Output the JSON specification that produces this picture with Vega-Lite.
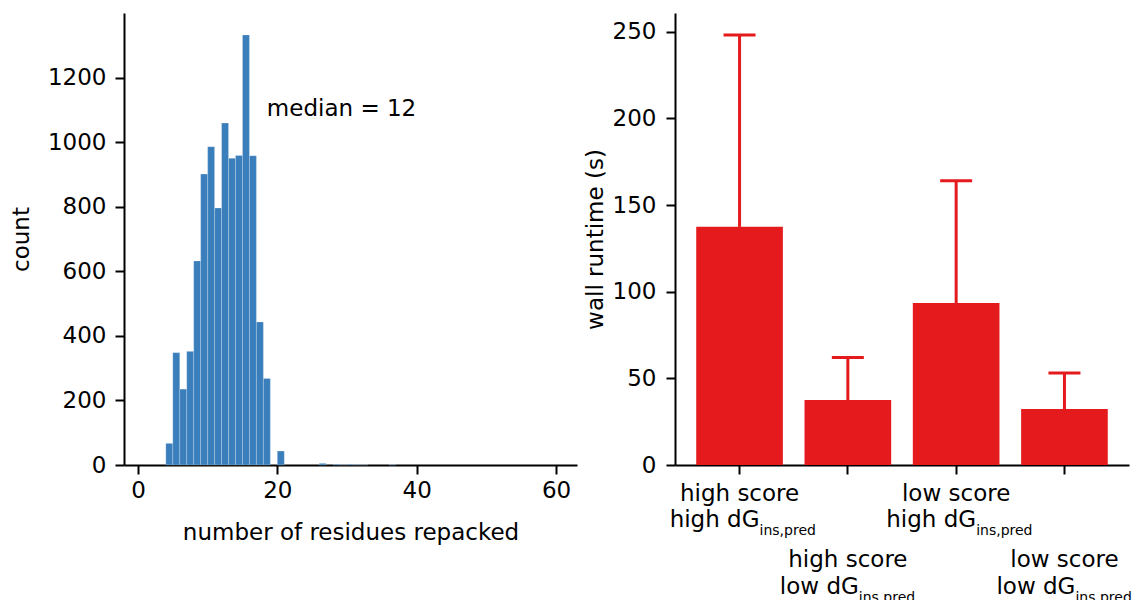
{
  "$schema": "https://vega.github.io/schema/vega-lite/v6.json",
  "background": "white",
  "padding": {"left": 10, "top": 13, "right": 0, "bottom": 0},
  "spacing": 98,
  "bounds": "flush",
  "config": {
    "view": {"stroke": null},
    "font": "DejaVu Sans",
    "axis": {
      "grid": false,
      "domainColor": "#000000",
      "domainWidth": 2,
      "tickColor": "#000000",
      "tickWidth": 2,
      "tickSize": 9,
      "labelFont": "DejaVu Sans",
      "labelFontSize": 23,
      "labelColor": "#000000",
      "titleFont": "DejaVu Sans",
      "titleFontSize": 23,
      "titleFontWeight": "normal",
      "titleColor": "#000000"
    }
  },
  "hconcat": [
    {
      "width": 453,
      "height": 452,
      "layer": [
        {
          "data": {"values": [
            {"bin_start": 4, "bin_end": 5, "count": 67},
            {"bin_start": 5, "bin_end": 6, "count": 348},
            {"bin_start": 6, "bin_end": 7, "count": 235},
            {"bin_start": 7, "bin_end": 8, "count": 352},
            {"bin_start": 8, "bin_end": 9, "count": 632},
            {"bin_start": 9, "bin_end": 10, "count": 901},
            {"bin_start": 10, "bin_end": 11, "count": 986},
            {"bin_start": 11, "bin_end": 12, "count": 796},
            {"bin_start": 12, "bin_end": 13, "count": 1059},
            {"bin_start": 13, "bin_end": 14, "count": 950},
            {"bin_start": 14, "bin_end": 15, "count": 959},
            {"bin_start": 15, "bin_end": 16, "count": 1332},
            {"bin_start": 16, "bin_end": 17, "count": 958},
            {"bin_start": 17, "bin_end": 18, "count": 443},
            {"bin_start": 18, "bin_end": 19, "count": 268},
            {"bin_start": 20, "bin_end": 21, "count": 43},
            {"bin_start": 26, "bin_end": 27, "count": 5},
            {"bin_start": 28, "bin_end": 29, "count": 2},
            {"bin_start": 29, "bin_end": 30, "count": 1},
            {"bin_start": 30, "bin_end": 31, "count": 2},
            {"bin_start": 31, "bin_end": 32, "count": 1},
            {"bin_start": 32, "bin_end": 33, "count": 1},
            {"bin_start": 36, "bin_end": 37, "count": 1}
          ]},
          "mark": {"type": "bar", "color": "#3a7ebb", "stroke": "#ffffff", "strokeWidth": 0.5, "strokeOpacity": 0.45},
          "encoding": {
            "x": {
              "field": "bin_start", "type": "quantitative",
              "scale": {"domain": [-2, 63], "nice": false, "zero": false},
              "axis": {"values": [0, 20, 40, 60], "title": "number of residues repacked", "labelPadding": 5, "titlePadding": 19, "labelFlush": false}
            },
            "x2": {"field": "bin_end"},
            "y": {
              "field": "count", "type": "quantitative",
              "scale": {"domain": [0, 1400], "nice": false},
              "axis": {"values": [0, 200, 400, 600, 800, 1000, 1200], "format": "d", "title": "count", "labelPadding": 9, "titlePadding": 14}
            },
            "y2": {"datum": 0}
          }
        },
        {
          "data": {"values": [{"label": "median = 12"}]},
          "mark": {"type": "text", "align": "left", "baseline": "alphabetic", "fontSize": 23, "color": "#000000", "font": "DejaVu Sans"},
          "encoding": {
            "x": {"datum": 18.5, "type": "quantitative"},
            "y": {"datum": 1080, "type": "quantitative"},
            "text": {"field": "label"}
          }
        }
      ]
    },
    {
      "width": 454,
      "height": 452,
      "data": {"values": [
        {"group": "high score / high dG", "line1": "high score", "line2": "high dG", "sub": "ins,pred", "runtime": 137.4, "upper": 248.1},
        {"group": "high score / low dG", "line1": "high score", "line2": "low dG", "sub": "ins,pred", "runtime": 37.5, "upper": 62.0},
        {"group": "low score / high dG", "line1": "low score", "line2": "high dG", "sub": "ins,pred", "runtime": 93.5, "upper": 164.0},
        {"group": "low score / low dG", "line1": "low score", "line2": "low dG", "sub": "ins,pred", "runtime": 32.3, "upper": 53.1}
      ]},
      "encoding": {
        "x": {
          "field": "group", "type": "nominal", "sort": null,
          "scale": {"paddingInner": 0.2, "paddingOuter": 0.196},
          "axis": {"labels": false, "title": null, "ticks": true}
        }
      },
      "layer": [
        {
          "mark": {"type": "bar", "color": "#e41a1c"},
          "encoding": {
            "y": {
              "field": "runtime", "type": "quantitative", "title": "wall runtime (s)",
              "scale": {"domain": [0, 260.8], "nice": false},
              "axis": {"values": [0, 50, 100, 150, 200, 250], "labelPadding": 10, "titlePadding": 5}
            }
          }
        },
        {
          "mark": {"type": "rule", "color": "#e41a1c", "strokeWidth": 3},
          "encoding": {
            "y": {"field": "runtime", "type": "quantitative", "title": "wall runtime (s)"},
            "y2": {"field": "upper"}
          }
        },
        {
          "mark": {"type": "tick", "color": "#e41a1c", "thickness": 3, "size": 32, "orient": "horizontal", "opacity": 1},
          "encoding": {
            "y": {"field": "upper", "type": "quantitative", "title": "wall runtime (s)"}
          }
        },
        {
          "transform": [{"filter": "datum.line2 == 'high dG'"}],
          "mark": {"type": "text", "align": "center", "baseline": "alphabetic", "fontSize": 23, "color": "#000000", "dy": 36},
          "encoding": {"y": {"datum": 0, "type": "quantitative", "title": "wall runtime (s)"}, "text": {"field": "line1"}}
        },
        {
          "transform": [{"filter": "datum.line2 == 'high dG'"}],
          "mark": {"type": "text", "align": "right", "baseline": "alphabetic", "fontSize": 23, "color": "#000000", "dx": 20, "dy": 62},
          "encoding": {"y": {"datum": 0, "type": "quantitative", "title": "wall runtime (s)"}, "text": {"field": "line2"}}
        },
        {
          "transform": [{"filter": "datum.line2 == 'high dG'"}],
          "mark": {"type": "text", "align": "left", "baseline": "alphabetic", "fontSize": 14, "color": "#000000", "dx": 20, "dy": 70},
          "encoding": {"y": {"datum": 0, "type": "quantitative", "title": "wall runtime (s)"}, "text": {"field": "sub"}}
        },
        {
          "transform": [{"filter": "datum.line2 == 'low dG'"}],
          "mark": {"type": "text", "align": "center", "baseline": "alphabetic", "fontSize": 23, "color": "#000000", "dy": 102},
          "encoding": {"y": {"datum": 0, "type": "quantitative", "title": "wall runtime (s)"}, "text": {"field": "line1"}}
        },
        {
          "transform": [{"filter": "datum.line2 == 'low dG'"}],
          "mark": {"type": "text", "align": "right", "baseline": "alphabetic", "fontSize": 23, "color": "#000000", "dx": 11, "dy": 129},
          "encoding": {"y": {"datum": 0, "type": "quantitative", "title": "wall runtime (s)"}, "text": {"field": "line2"}}
        },
        {
          "transform": [{"filter": "datum.line2 == 'low dG'"}],
          "mark": {"type": "text", "align": "left", "baseline": "alphabetic", "fontSize": 14, "color": "#000000", "dx": 11, "dy": 137},
          "encoding": {"y": {"datum": 0, "type": "quantitative", "title": "wall runtime (s)"}, "text": {"field": "sub"}}
        }
      ]
    }
  ]
}
